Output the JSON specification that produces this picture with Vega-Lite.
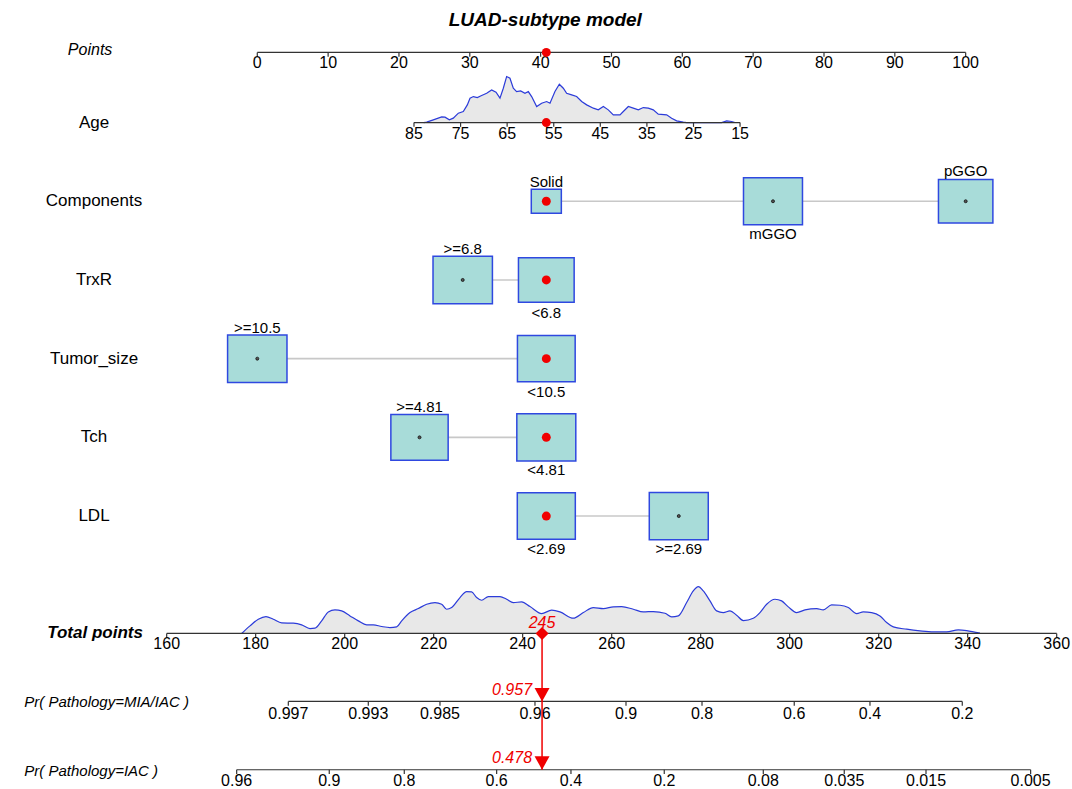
{
  "$schema": "https://vega.github.io/schema/vega-lite/v6.json",
  "width": 1072,
  "height": 789,
  "autosize": {"type": "fit", "contains": "padding"},
  "padding": 0,
  "background": "white",
  "config": {"view": {"stroke": null}, "axis": {"disable": true}, "font": "Liberation Sans", "text": {"font": "Liberation Sans", "color": "#000000"}},
  "datasets": {
    "points_ticks": [
      {"pts": 0, "label": "0"}, {"pts": 10, "label": "10"}, {"pts": 20, "label": "20"}, {"pts": 30, "label": "30"},
      {"pts": 40, "label": "40"}, {"pts": 50, "label": "50"}, {"pts": 60, "label": "60"}, {"pts": 70, "label": "70"},
      {"pts": 80, "label": "80"}, {"pts": 90, "label": "90"}, {"pts": 100, "label": "100"}
    ],
    "age_ticks": [
      {"pts": 22.12, "label": "85"}, {"pts": 28.7, "label": "75"}, {"pts": 35.27, "label": "65"}, {"pts": 41.85, "label": "55"},
      {"pts": 48.42, "label": "45"}, {"pts": 55.0, "label": "35"}, {"pts": 61.58, "label": "25"}, {"pts": 68.15, "label": "15"}
    ],
    "total_ticks": [
      {"pts": -12.79, "label": "160"}, {"pts": -0.23, "label": "180"}, {"pts": 12.34, "label": "200"}, {"pts": 24.9, "label": "220"},
      {"pts": 37.46, "label": "240"}, {"pts": 50.03, "label": "260"}, {"pts": 62.59, "label": "280"}, {"pts": 75.15, "label": "300"},
      {"pts": 87.72, "label": "320"}, {"pts": 100.28, "label": "340"}, {"pts": 112.85, "label": "360"}
    ],
    "mia_ticks": [
      {"pts": 4.38, "label": "0.997"}, {"pts": 15.67, "label": "0.993"}, {"pts": 25.79, "label": "0.985"}, {"pts": 39.2, "label": "0.96"},
      {"pts": 52.05, "label": "0.9"}, {"pts": 62.78, "label": "0.8"}, {"pts": 75.8, "label": "0.6"}, {"pts": 86.49, "label": "0.4"},
      {"pts": 99.52, "label": "0.2"}
    ],
    "iac_ticks": [
      {"pts": -2.91, "label": "0.96"}, {"pts": 10.16, "label": "0.9"}, {"pts": 20.75, "label": "0.8"}, {"pts": 33.79, "label": "0.6"},
      {"pts": 44.28, "label": "0.4"}, {"pts": 57.45, "label": "0.2"}, {"pts": 71.43, "label": "0.08"}, {"pts": 82.86, "label": "0.035"},
      {"pts": 94.4, "label": "0.015"}, {"pts": 109.17, "label": "0.005"}
    ],
    "age_density": [
      {"pts": 23.5, "y": 2.0}, {"pts": 23.91, "y": 1.9953}, {"pts": 24.85, "y": 1.9657}, {"pts": 26.03, "y": 1.9277},
      {"pts": 26.5, "y": 1.9319}, {"pts": 27.11, "y": 1.9657}, {"pts": 27.67, "y": 1.9445}, {"pts": 28.38, "y": 1.8811},
      {"pts": 29.08, "y": 1.86}, {"pts": 29.65, "y": 1.7754}, {"pts": 30.03, "y": 1.6907}, {"pts": 30.5, "y": 1.6697},
      {"pts": 31.06, "y": 1.6824}, {"pts": 31.67, "y": 1.657}, {"pts": 32.38, "y": 1.6273}, {"pts": 33.08, "y": 1.585},
      {"pts": 33.7, "y": 1.6146}, {"pts": 34.26, "y": 1.6907}, {"pts": 34.73, "y": 1.5638}, {"pts": 35.2, "y": 1.4159},
      {"pts": 35.67, "y": 1.4369}, {"pts": 36.14, "y": 1.5638}, {"pts": 36.61, "y": 1.6062}, {"pts": 37.18, "y": 1.5977},
      {"pts": 37.79, "y": 1.6273}, {"pts": 38.26, "y": 1.6062}, {"pts": 38.73, "y": 1.6697}, {"pts": 39.44, "y": 1.7966},
      {"pts": 40.14, "y": 1.7542}, {"pts": 40.85, "y": 1.7331}, {"pts": 41.32, "y": 1.7542}, {"pts": 42.02, "y": 1.6062},
      {"pts": 42.64, "y": 1.5131}, {"pts": 43.2, "y": 1.5638}, {"pts": 43.67, "y": 1.6273}, {"pts": 44.38, "y": 1.6485},
      {"pts": 45.08, "y": 1.6697}, {"pts": 45.79, "y": 1.7331}, {"pts": 46.5, "y": 1.7754}, {"pts": 47.44, "y": 1.8176},
      {"pts": 48.14, "y": 1.8388}, {"pts": 48.85, "y": 1.7966}, {"pts": 49.55, "y": 1.8388}, {"pts": 50.26, "y": 1.9023},
      {"pts": 51.2, "y": 1.9023}, {"pts": 51.67, "y": 1.86}, {"pts": 52.38, "y": 1.7966}, {"pts": 53.08, "y": 1.8176},
      {"pts": 53.79, "y": 1.8388}, {"pts": 54.49, "y": 1.8093}, {"pts": 55.2, "y": 1.8176}, {"pts": 55.9, "y": 1.8388},
      {"pts": 56.61, "y": 1.8938}, {"pts": 57.79, "y": 1.9023}, {"pts": 58.49, "y": 1.9445}, {"pts": 59.2, "y": 1.9784},
      {"pts": 60.14, "y": 1.9953}, {"pts": 60.61, "y": 2.0}, {"pts": 65.55, "y": 2.0}, {"pts": 66.26, "y": 1.9784},
      {"pts": 66.96, "y": 1.9869}, {"pts": 67.43, "y": 2.0}
    ],
    "total_density": [
      {"pts": -2.21, "y": 8.4928}, {"pts": -1.03, "y": 8.3956}, {"pts": 0.145, "y": 8.3109}, {"pts": 1.228, "y": 8.277},
      {"pts": 2.263, "y": 8.3109}, {"pts": 3.44, "y": 8.3575}, {"pts": 5.086, "y": 8.3617}, {"pts": 6.263, "y": 8.3829},
      {"pts": 7.439, "y": 8.4293}, {"pts": 8.145, "y": 8.4251}, {"pts": 9.087, "y": 8.3321}, {"pts": 10.027, "y": 8.2179},
      {"pts": 10.968, "y": 8.1925}, {"pts": 11.91, "y": 8.2052}, {"pts": 13.086, "y": 8.2687}, {"pts": 14.262, "y": 8.3321},
      {"pts": 15.439, "y": 8.3829}, {"pts": 16.379, "y": 8.3829}, {"pts": 17.556, "y": 8.4039}, {"pts": 18.732, "y": 8.4166},
      {"pts": 19.674, "y": 8.4082}, {"pts": 20.38, "y": 8.3321}, {"pts": 21.556, "y": 8.2263}, {"pts": 22.732, "y": 8.1755},
      {"pts": 23.909, "y": 8.1206}, {"pts": 25.085, "y": 8.0994}, {"pts": 26.026, "y": 8.1206}, {"pts": 26.732, "y": 8.184},
      {"pts": 27.438, "y": 8.1628}, {"pts": 28.614, "y": 8.0359}, {"pts": 29.555, "y": 7.9598}, {"pts": 30.261, "y": 7.9641},
      {"pts": 30.967, "y": 8.0359}, {"pts": 31.673, "y": 8.0698}, {"pts": 32.613, "y": 8.0232}, {"pts": 34.26, "y": 8.0232},
      {"pts": 35.202, "y": 8.0571}, {"pts": 36.142, "y": 8.0994}, {"pts": 37.319, "y": 8.091}, {"pts": 38.495, "y": 8.1501},
      {"pts": 40.143, "y": 8.239}, {"pts": 41.554, "y": 8.1967}, {"pts": 42.73, "y": 8.2179}, {"pts": 44.612, "y": 8.2982},
      {"pts": 46.024, "y": 8.2263}, {"pts": 47.435, "y": 8.1628}, {"pts": 48.847, "y": 8.1755}, {"pts": 50.259, "y": 8.1544},
      {"pts": 51.435, "y": 8.1501}, {"pts": 53.082, "y": 8.184}, {"pts": 54.493, "y": 8.2179}, {"pts": 55.905, "y": 8.2136},
      {"pts": 57.552, "y": 8.2348}, {"pts": 58.494, "y": 8.2813}, {"pts": 59.434, "y": 8.2687}, {"pts": 60.611, "y": 8.0994},
      {"pts": 61.551, "y": 7.9514}, {"pts": 62.257, "y": 7.8963}, {"pts": 62.963, "y": 7.9514}, {"pts": 63.905, "y": 8.0783},
      {"pts": 64.846, "y": 8.2052}, {"pts": 65.786, "y": 8.2263}, {"pts": 66.728, "y": 8.2052}, {"pts": 67.669, "y": 8.2602},
      {"pts": 68.61, "y": 8.3278}, {"pts": 70.021, "y": 8.2982}, {"pts": 70.963, "y": 8.2263}, {"pts": 71.904, "y": 8.1206},
      {"pts": 73.08, "y": 8.0571}, {"pts": 74.022, "y": 8.0783}, {"pts": 74.962, "y": 8.1544}, {"pts": 76.139, "y": 8.2263},
      {"pts": 77.315, "y": 8.1925}, {"pts": 78.962, "y": 8.1755}, {"pts": 79.902, "y": 8.1925}, {"pts": 81.08, "y": 8.129},
      {"pts": 82.256, "y": 8.1332}, {"pts": 83.432, "y": 8.1628}, {"pts": 84.609, "y": 8.239}, {"pts": 85.549, "y": 8.2179},
      {"pts": 86.726, "y": 8.2263}, {"pts": 87.902, "y": 8.2687}, {"pts": 88.844, "y": 8.3532}, {"pts": 89.784, "y": 8.4082},
      {"pts": 91.667, "y": 8.4378}, {"pts": 93.549, "y": 8.459}, {"pts": 95.431, "y": 8.4717}, {"pts": 97.314, "y": 8.4717},
      {"pts": 98.96, "y": 8.4463}, {"pts": 100.137, "y": 8.4548}, {"pts": 102.02, "y": 8.4886}
    ],
    "variables": [
      {"name": "Age", "row": 2}, {"name": "Components", "row": 3}, {"name": "TrxR", "row": 4},
      {"name": "Tumor_size", "row": 5}, {"name": "Tch", "row": 6}, {"name": "LDL", "row": 7}
    ],
    "levels": [
      {"var": "Components", "row": 3, "level": "Solid", "pts": 40.8, "freq": 0.129, "selected": true, "side": "above"},
      {"var": "Components", "row": 3, "level": "mGGO", "pts": 72.8, "freq": 0.497, "selected": false, "side": "below"},
      {"var": "Components", "row": 3, "level": "pGGO", "pts": 100, "freq": 0.423, "selected": false, "side": "above"},
      {"var": "TrxR", "row": 4, "level": ">=6.8", "pts": 29.0, "freq": 0.504, "selected": false, "side": "above"},
      {"var": "TrxR", "row": 4, "level": "<6.8", "pts": 40.8, "freq": 0.443, "selected": true, "side": "below"},
      {"var": "Tumor_size", "row": 5, "level": ">=10.5", "pts": 0, "freq": 0.504, "selected": false, "side": "above"},
      {"var": "Tumor_size", "row": 5, "level": "<10.5", "pts": 40.8, "freq": 0.476, "selected": true, "side": "below"},
      {"var": "Tch", "row": 6, "level": ">=4.81", "pts": 22.9, "freq": 0.469, "selected": false, "side": "above"},
      {"var": "Tch", "row": 6, "level": "<4.81", "pts": 40.8, "freq": 0.497, "selected": true, "side": "below"},
      {"var": "LDL", "row": 7, "level": "<2.69", "pts": 40.8, "freq": 0.481, "selected": true, "side": "below"},
      {"var": "LDL", "row": 7, "level": ">=2.69", "pts": 59.5, "freq": 0.497, "selected": false, "side": "below"}
    ],
    "marker": [{"total": 245, "pts": 40.2, "points": 40.8, "mia": "0.957", "iac": "0.478"}]
  },
  "layer": [
    {
      "data": {"values": [{"t": "LUAD-subtype model"}]},
      "mark": {"type": "text", "fontSize": 19, "fontWeight": "bold", "fontStyle": "italic", "align": "center", "baseline": "alphabetic"},
      "encoding": {
        "x": {"datum": 40.66, "type": "quantitative", "scale": {"domain": [-36.32, 115.01], "nice": false, "zero": false}, "axis": null},
        "y": {"datum": 0.775, "type": "quantitative", "scale": {"domain": [0.4429, 10.4556], "reverse": true, "nice": false, "zero": false}, "axis": null},
        "text": {"field": "t"}
      }
    },
    {
      "data": {"name": "age_density"},
      "mark": {"type": "area", "color": "#e8e8e8", "opacity": 1},
      "encoding": {"x": {"field": "pts", "type": "quantitative"}, "y": {"field": "y", "type": "quantitative"}, "y2": {"datum": 2}}
    },
    {
      "data": {"name": "age_density"},
      "mark": {"type": "line", "color": "#2b3bd9", "strokeWidth": 1.2},
      "encoding": {"x": {"field": "pts", "type": "quantitative"}, "y": {"field": "y", "type": "quantitative"}}
    },
    {
      "data": {"name": "total_density"},
      "mark": {"type": "area", "color": "#e8e8e8", "opacity": 1},
      "encoding": {"x": {"field": "pts", "type": "quantitative"}, "y": {"field": "y", "type": "quantitative"}, "y2": {"datum": 8.492}}
    },
    {
      "data": {"name": "total_density"},
      "mark": {"type": "line", "color": "#2b3bd9", "strokeWidth": 1.2, "interpolate": "monotone"},
      "encoding": {"x": {"field": "pts", "type": "quantitative"}, "y": {"field": "y", "type": "quantitative"}}
    },
    {
      "data": {"name": "points_ticks"},
      "layer": [
        {"mark": {"type": "rule", "color": "#333333", "strokeWidth": 1.2},
         "encoding": {"x": {"aggregate": "min", "field": "pts", "type": "quantitative"}, "x2": {"aggregate": "max", "field": "pts"}, "y": {"datum": 1.109}}},
        {"mark": {"type": "rule", "color": "#333333", "strokeWidth": 1.2},
         "encoding": {"x": {"field": "pts", "type": "quantitative"}, "y": {"datum": 1.109}, "y2": {"datum": 1.164}}},
        {"mark": {"type": "text", "fontSize": 16, "align": "center", "baseline": "alphabetic", "dy": 16},
         "encoding": {"x": {"field": "pts", "type": "quantitative"}, "y": {"datum": 1.109}, "text": {"field": "label"}}}
      ]
    },
    {
      "data": {"name": "age_ticks"},
      "layer": [
        {"mark": {"type": "rule", "color": "#333333", "strokeWidth": 1.2},
         "encoding": {"x": {"aggregate": "min", "field": "pts", "type": "quantitative"}, "x2": {"aggregate": "max", "field": "pts"}, "y": {"datum": 2}}},
        {"mark": {"type": "rule", "color": "#333333", "strokeWidth": 1.2},
         "encoding": {"x": {"field": "pts", "type": "quantitative"}, "y": {"datum": 2}, "y2": {"datum": 2.055}}},
        {"mark": {"type": "text", "fontSize": 16, "align": "center", "baseline": "alphabetic", "dy": 16},
         "encoding": {"x": {"field": "pts", "type": "quantitative"}, "y": {"datum": 2}, "text": {"field": "label"}}}
      ]
    },
    {
      "data": {"name": "total_ticks"},
      "layer": [
        {"mark": {"type": "rule", "color": "#333333", "strokeWidth": 1.2},
         "encoding": {"x": {"aggregate": "min", "field": "pts", "type": "quantitative"}, "x2": {"aggregate": "max", "field": "pts"}, "y": {"datum": 8.492}}},
        {"mark": {"type": "rule", "color": "#333333", "strokeWidth": 1.2},
         "encoding": {"x": {"field": "pts", "type": "quantitative"}, "y": {"datum": 8.492}, "y2": {"datum": 8.547}}},
        {"mark": {"type": "text", "fontSize": 16, "align": "center", "baseline": "alphabetic", "dy": 16},
         "encoding": {"x": {"field": "pts", "type": "quantitative"}, "y": {"datum": 8.492}, "text": {"field": "label"}}}
      ]
    },
    {
      "data": {"name": "mia_ticks"},
      "layer": [
        {"mark": {"type": "rule", "color": "#333333", "strokeWidth": 1.2},
         "encoding": {"x": {"aggregate": "min", "field": "pts", "type": "quantitative"}, "x2": {"aggregate": "max", "field": "pts"}, "y": {"datum": 9.3553}}},
        {"mark": {"type": "rule", "color": "#333333", "strokeWidth": 1.2},
         "encoding": {"x": {"field": "pts", "type": "quantitative"}, "y": {"datum": 9.3553}, "y2": {"datum": 9.4103}}},
        {"mark": {"type": "text", "fontSize": 16, "align": "center", "baseline": "alphabetic", "dy": 17.5},
         "encoding": {"x": {"field": "pts", "type": "quantitative"}, "y": {"datum": 9.3553}, "text": {"field": "label"}}}
      ]
    },
    {
      "data": {"name": "iac_ticks"},
      "layer": [
        {"mark": {"type": "rule", "color": "#333333", "strokeWidth": 1.2},
         "encoding": {"x": {"aggregate": "min", "field": "pts", "type": "quantitative"}, "x2": {"aggregate": "max", "field": "pts"}, "y": {"datum": 10.2234}}},
        {"mark": {"type": "rule", "color": "#333333", "strokeWidth": 1.2},
         "encoding": {"x": {"field": "pts", "type": "quantitative"}, "y": {"datum": 10.2234}, "y2": {"datum": 10.2784}}},
        {"mark": {"type": "text", "fontSize": 16, "align": "center", "baseline": "alphabetic", "dy": 16},
         "encoding": {"x": {"field": "pts", "type": "quantitative"}, "y": {"datum": 10.2234}, "text": {"field": "label"}}}
      ]
    },
    {
      "data": {"name": "levels"},
      "mark": {"type": "line", "color": "#c8c8c8", "strokeWidth": 1.6},
      "encoding": {"x": {"field": "pts", "type": "quantitative"}, "y": {"field": "row", "type": "quantitative"}, "detail": {"field": "var"}}
    },
    {
      "data": {"name": "levels"},
      "mark": {"type": "point", "shape": "M-1,-0.8L1,-0.8L1,0.8L-1,0.8Z", "filled": true, "fill": "#a8dcd9", "stroke": "#2f48e0", "strokeWidth": 1.5, "opacity": 1, "fillOpacity": 1, "strokeOpacity": 1},
      "encoding": {
        "x": {"field": "pts", "type": "quantitative"},
        "y": {"field": "row", "type": "quantitative"},
        "size": {"field": "freq", "type": "quantitative", "scale": {"domain": [0, 1], "range": [0, 7000], "zero": true}, "legend": null}
      }
    },
    {
      "data": {"name": "levels"},
      "transform": [{"filter": "!datum.selected"}],
      "mark": {"type": "point", "shape": "circle", "filled": true, "fill": "#555555", "stroke": "#111111", "strokeWidth": 0.8, "size": 9, "opacity": 1},
      "encoding": {"x": {"field": "pts", "type": "quantitative"}, "y": {"field": "row", "type": "quantitative"}}
    },
    {
      "data": {"name": "levels"},
      "transform": [{"filter": "datum.selected"}],
      "mark": {"type": "point", "shape": "circle", "filled": true, "color": "#f00000", "size": 80, "opacity": 1},
      "encoding": {"x": {"field": "pts", "type": "quantitative"}, "y": {"field": "row", "type": "quantitative"}}
    },
    {
      "data": {"name": "levels"},
      "transform": [{"filter": "datum.side === 'above' && datum.level !== 'Solid'"}],
      "mark": {"type": "text", "fontSize": 15, "align": "center", "baseline": "alphabetic", "dy": -25.5},
      "encoding": {"x": {"field": "pts", "type": "quantitative"}, "y": {"field": "row", "type": "quantitative"}, "text": {"field": "level"}}
    },
    {
      "data": {"name": "levels"},
      "transform": [{"filter": "datum.level === 'Solid'"}],
      "mark": {"type": "text", "fontSize": 15, "align": "center", "baseline": "alphabetic", "dy": -14.5},
      "encoding": {"x": {"field": "pts", "type": "quantitative"}, "y": {"field": "row", "type": "quantitative"}, "text": {"field": "level"}}
    },
    {
      "data": {"name": "levels"},
      "transform": [{"filter": "datum.side === 'below'"}],
      "mark": {"type": "text", "fontSize": 15, "align": "center", "baseline": "alphabetic", "dy": 38},
      "encoding": {"x": {"field": "pts", "type": "quantitative"}, "y": {"field": "row", "type": "quantitative"}, "text": {"field": "level"}}
    },
    {
      "data": {"name": "marker"},
      "mark": {"type": "point", "shape": "circle", "filled": true, "color": "#f00000", "size": 80, "opacity": 1},
      "encoding": {"x": {"field": "points", "type": "quantitative"}, "y": {"datum": 1.109}}
    },
    {
      "data": {"name": "marker"},
      "mark": {"type": "point", "shape": "circle", "filled": true, "color": "#f00000", "size": 80, "opacity": 1},
      "encoding": {"x": {"field": "points", "type": "quantitative"}, "y": {"datum": 2}}
    },
    {
      "data": {"name": "marker"},
      "mark": {"type": "rule", "color": "#f00000", "strokeWidth": 1.5},
      "encoding": {"x": {"field": "pts", "type": "quantitative"}, "y": {"datum": 8.492}, "y2": {"datum": 10.2234}}
    },
    {
      "data": {"name": "marker"},
      "mark": {"type": "point", "shape": "M0,-1L1,0L0,1L-1,0Z", "filled": true, "color": "#f00000", "size": 169, "opacity": 1},
      "encoding": {"x": {"field": "pts", "type": "quantitative"}, "y": {"datum": 8.492}}
    },
    {
      "data": {"name": "marker"},
      "mark": {"type": "point", "shape": "M-1,-1.8L1,-1.8L0,0Z", "filled": true, "color": "#f00000", "size": 225, "opacity": 1},
      "encoding": {"x": {"field": "pts", "type": "quantitative"}, "y": {"datum": 9.3553}}
    },
    {
      "data": {"name": "marker"},
      "mark": {"type": "point", "shape": "M-1,-1.8L1,-1.8L0,0Z", "filled": true, "color": "#f00000", "size": 225, "opacity": 1},
      "encoding": {"x": {"field": "pts", "type": "quantitative"}, "y": {"datum": 10.2234}}
    },
    {
      "data": {"name": "marker"},
      "mark": {"type": "text", "fontSize": 16, "fontStyle": "italic", "color": "#f00000", "align": "center", "baseline": "alphabetic", "dy": -5},
      "encoding": {"x": {"field": "pts", "type": "quantitative"}, "y": {"datum": 8.492}, "text": {"field": "total", "type": "nominal"}}
    },
    {
      "data": {"name": "marker"},
      "mark": {"type": "text", "fontSize": 16, "fontStyle": "italic", "color": "#f00000", "align": "right", "baseline": "alphabetic", "dx": -10, "dy": -6.3},
      "encoding": {"x": {"field": "pts", "type": "quantitative"}, "y": {"datum": 9.3553}, "text": {"field": "mia", "type": "nominal"}}
    },
    {
      "data": {"name": "marker"},
      "mark": {"type": "text", "fontSize": 16, "fontStyle": "italic", "color": "#f00000", "align": "right", "baseline": "alphabetic", "dx": -10, "dy": -6.7},
      "encoding": {"x": {"field": "pts", "type": "quantitative"}, "y": {"datum": 10.2234}, "text": {"field": "iac", "type": "nominal"}}
    },
    {
      "data": {"name": "variables"},
      "mark": {"type": "text", "fontSize": 17, "align": "center", "baseline": "middle"},
      "encoding": {"x": {"datum": -23.05, "type": "quantitative"}, "y": {"field": "row", "type": "quantitative"}, "text": {"field": "name"}}
    },
    {
      "data": {"values": [{"label": "Points"}]},
      "mark": {"type": "text", "fontSize": 16, "fontStyle": "italic", "align": "center", "baseline": "middle"},
      "encoding": {"x": {"datum": -23.6, "type": "quantitative"}, "y": {"datum": 1.0774}, "text": {"field": "label"}}
    },
    {
      "data": {"values": [{"label": "Total points"}]},
      "mark": {"type": "text", "fontSize": 17, "fontStyle": "italic", "fontWeight": "bold", "align": "center", "baseline": "middle"},
      "encoding": {"x": {"datum": -22.9, "type": "quantitative"}, "y": {"datum": 8.49}, "text": {"field": "label"}}
    },
    {
      "data": {"values": [{"label": "Pr( Pathology=MIA/IAC )"}]},
      "mark": {"type": "text", "fontSize": 15, "fontStyle": "italic", "align": "left", "baseline": "middle"},
      "encoding": {"x": {"datum": -32.89, "type": "quantitative"}, "y": {"datum": 9.365}, "text": {"field": "label"}}
    },
    {
      "data": {"values": [{"label": "Pr( Pathology=IAC )"}]},
      "mark": {"type": "text", "fontSize": 15, "fontStyle": "italic", "align": "left", "baseline": "middle"},
      "encoding": {"x": {"datum": -32.89, "type": "quantitative"}, "y": {"datum": 10.235}, "text": {"field": "label"}}
    }
  ]
}
